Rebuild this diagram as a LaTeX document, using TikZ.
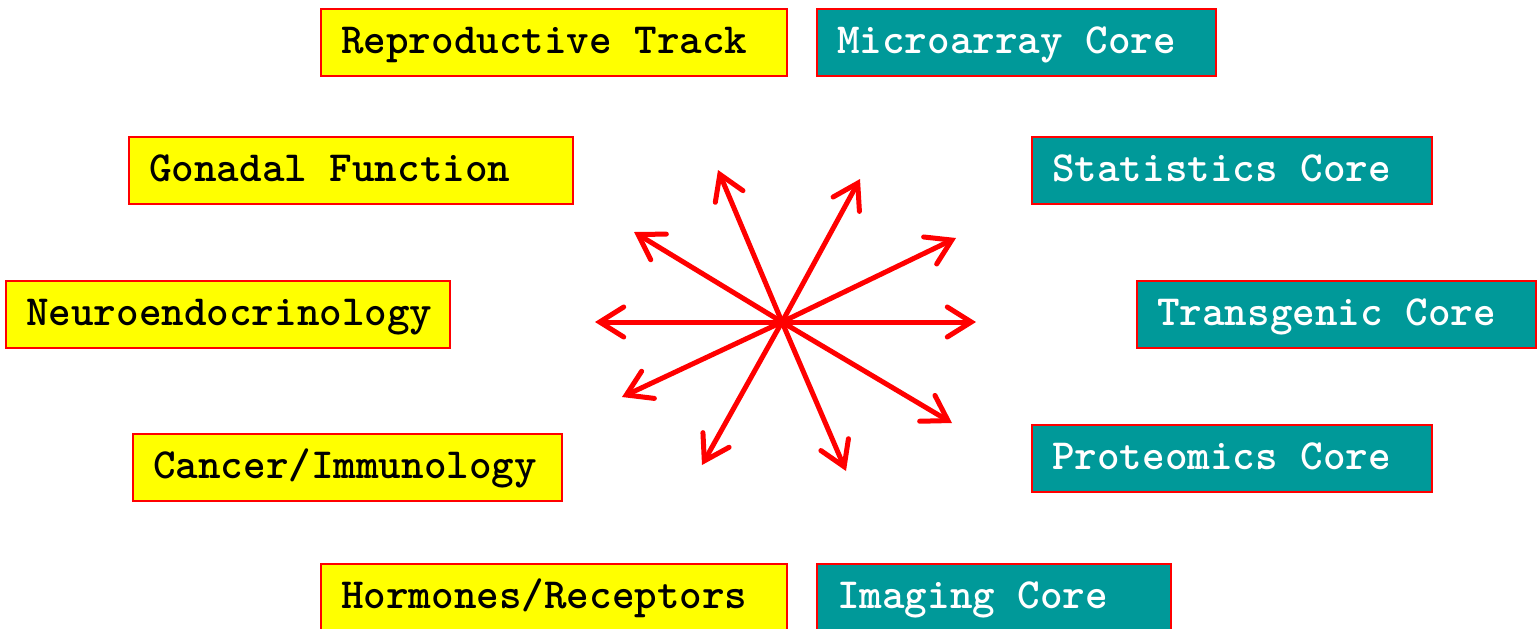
\documentclass[tikz,border=0pt]{standalone}
\usetikzlibrary{arrows.meta}
\definecolor{boxyellow}{HTML}{FFFF00}
\definecolor{boxteal}{HTML}{009999}
\definecolor{bordred}{HTML}{FF0000}
\tikzset{
  basebox/.style={draw=bordred, line width=1.2pt, anchor=north west, minimum height=33.5pt,
    inner xsep=10pt, inner ysep=0pt, align=left, text height=16pt, text depth=5.5pt,
    font=\ttfamily\bfseries\fontsize{21.5}{24}\selectfont,
    execute at begin node={\spaceskip=11.3pt\relax}},
  ybox/.style={basebox, fill=boxyellow, text=black},
  tbox/.style={basebox, fill=boxteal, text=white},
  spoke/.style={draw=bordred, line width=2.5pt, line cap=round,
    -{Straight Barb[length=12pt,width=15pt,line cap=round]}}
}
\begin{document}
\begin{tikzpicture}[x=0.5pt,y=-0.5pt]
\useasboundingbox (0,0) rectangle (1537,628);
\clip (0,0) rectangle (1537,628);
\node[ybox, text width=213pt] (r) at (320,8) {Reproductive Track};
\node[tbox, text width=179.5pt] (m) at (816,8) {Microarray Core};
\node[ybox, text width=202pt] (g) at (128,136) {Gonadal Function};
\node[tbox, text width=180pt] (s) at (1031,136) {Statistics Core};
\node[ybox, text width=202pt] (n) at (5,280) {Neuroendocrinology};
\node[tbox, text width=179.5pt] (t) at (1136,280) {Transgenic Core};
\node[ybox, text width=194.5pt] (c) at (132,433) {Cancer/Immunology};
\node[tbox, text width=180pt] (p) at (1031,424) {Proteomics Core};
\node[ybox, text width=213pt] (h) at (320,563) {Hormones/Receptors};
\node[tbox, text width=157pt] (i) at (816,563) {Imaging Core};

\coordinate (o) at (782,322);
\coordinate (e1) at (718,170);
\coordinate (e2) at (860,179);
\coordinate (e3) at (956,238);
\coordinate (e4) at (976,322);
\coordinate (e5) at (952,423);
\coordinate (e6) at (846,471);
\coordinate (e7) at (702,465);
\coordinate (e8) at (622,397);
\coordinate (e9) at (595,322);
\coordinate (e10) at (634,232);
\foreach \k in {1,...,10} \draw[spoke] (o) -- (e\k);
\end{tikzpicture}
\end{document}
